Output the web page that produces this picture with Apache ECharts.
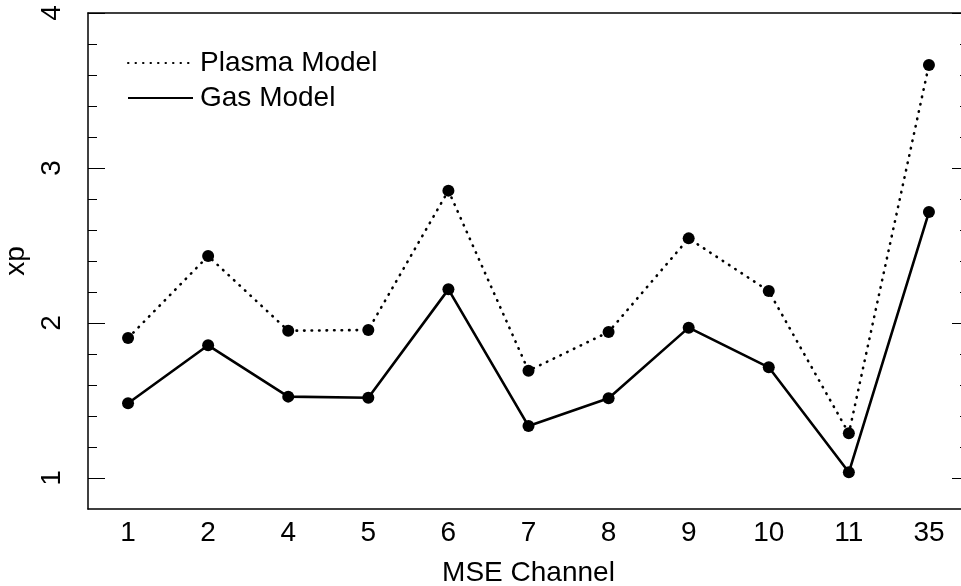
<!DOCTYPE html>
<html>
<head>
<meta charset="utf-8">
<script src="https://cdn.jsdelivr.net/npm/echarts@6/dist/echarts.min.js"></script>
<style>
html,body{margin:0;padding:0;background:#fff;}
#chart{width:961px;height:586px;}
</style>
</head>
<body>
<div id="chart"></div>
<script>
var channels = ['1','2','4','5','6','7','8','9','10','11','35'];
var plasmaModel = [1.903, 2.432, 1.950, 1.955, 2.854, 1.692, 1.942, 2.546, 2.206, 1.288, 3.665];
var gasModel = [1.482, 1.856, 1.525, 1.518, 2.217, 1.335, 1.514, 1.970, 1.714, 1.037, 2.716];
var yMajorTicks = [1, 2, 3, 4];
var yMinorTicks = [1.2, 1.4, 1.6, 1.8, 2.2, 2.4, 2.6, 2.8, 3.2, 3.4, 3.6, 3.8];

var FONT = '"Liberation Sans", Arial, Helvetica, sans-serif';
var FS = 28;
var chart = echarts.init(document.getElementById('chart'), null, {renderer: 'canvas'});

function yAx(pos, ticks, len, showLine, showLabel) {
  return {
    type: 'value', position: pos, min: 0.8, max: 4,
    axisLine: {show: showLine, lineStyle: {color: '#000', width: 1.5}},
    axisTick: {show: true, inside: true, length: len, customValues: ticks, lineStyle: {color: '#000', width: 1}},
    axisLabel: showLabel ? {show: true, customValues: ticks, rotate: 90, margin: 22, color: '#000', fontSize: FS, fontFamily: FONT} : {show: false},
    splitLine: {show: false}
  };
}

var yAxes = [
  yAx('left', yMajorTicks, 17, true, true),
  yAx('left', yMinorTicks, 9, false, false),
  yAx('right', yMajorTicks, 17, true, false),
  yAx('right', yMinorTicks, 9, false, false)
];
yAxes[0].name = 'xp';
yAxes[0].nameLocation = 'middle';
yAxes[0].nameGap = 57;
yAxes[0].nameRotate = 90;
yAxes[0].nameTextStyle = {color: '#000', fontSize: FS, fontFamily: FONT};

var option = {
  animation: false,
  backgroundColor: '#fff',
  grid: {left: 88, top: 13, width: 881, height: 496, containLabel: false, outerBoundsMode: 'none'},
  legend: {
    orient: 'vertical', left: 122, top: 44,
    itemWidth: 65, itemHeight: 14, itemGap: 7,
    textStyle: {color: '#000', fontSize: FS, fontFamily: FONT, padding: [0, 0, 0, 2]},
    itemStyle: {opacity: 0},
    data: ['Plasma Model', 'Gas Model']
  },
  xAxis: [{
    type: 'category', position: 'bottom', data: channels, boundaryGap: true,
    name: 'MSE Channel', nameLocation: 'middle', nameGap: 50,
    nameTextStyle: {color: '#000', fontSize: FS, fontFamily: FONT},
    axisLine: {lineStyle: {color: '#000', width: 1.5}},
    axisTick: {inside: true, alignWithLabel: true, length: 17, lineStyle: {color: '#000', width: 1}},
    axisLabel: {color: '#000', fontSize: FS, fontFamily: FONT, margin: 10, interval: 0},
    splitLine: {show: false}
  }, {
    type: 'category', position: 'top', data: channels, boundaryGap: true,
    axisLine: {lineStyle: {color: '#000', width: 1.5}},
    axisTick: {inside: true, alignWithLabel: true, length: 17, lineStyle: {color: '#000', width: 1}},
    axisLabel: {show: false},
    splitLine: {show: false}
  }],
  yAxis: yAxes,
  series: [{
    name: 'Plasma Model', type: 'line', data: plasmaModel,
    xAxisIndex: 0, yAxisIndex: 0,
    symbol: 'circle', symbolSize: 12,
    itemStyle: {color: '#000'},
    lineStyle: {color: '#000', width: 2.6, type: [0.5, 7], cap: 'round'}
  }, {
    name: 'Gas Model', type: 'line', data: gasModel,
    xAxisIndex: 0, yAxisIndex: 0,
    symbol: 'circle', symbolSize: 12,
    itemStyle: {color: '#000'},
    lineStyle: {color: '#000', width: 2.6, type: 'solid'}
  }]
};
chart.setOption(option);
</script>
</body>
</html>
